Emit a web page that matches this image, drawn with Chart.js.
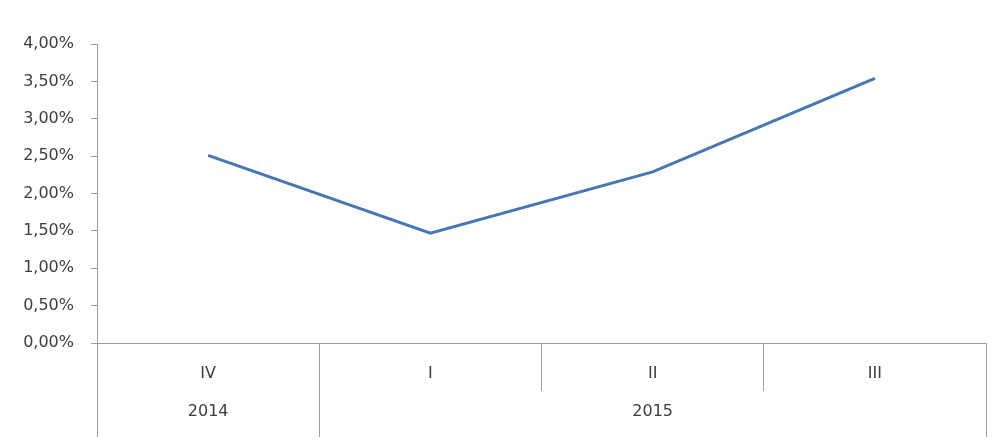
<!DOCTYPE html>
<html>
<head>
<meta charset="utf-8">
<script src="https://cdn.jsdelivr.net/npm/chart.js@4/dist/chart.umd.min.js"></script>
<style>
  html, body { margin: 0; padding: 0; background: #fff; }
  #wrap { width: 998px; height: 441px; }
</style>
</head>
<body>
<div id="wrap"><canvas id="grafico"></canvas></div>
<script>
// dados
const trimestres = ['IV', 'I', 'II', 'III'];
const anos = ['2014', '2015'];
const anoDeCada = [0, 1, 1, 1]; // índice em anos[] para cada trimestre
const taxa = [2.51, 1.47, 2.29, 3.54];

const corTexto = '#3d3d3d';
const corEixo = '#9c9c9c';
const fonte = { family: 'DejaVu Sans', size: 16 };

// desenha os anos e as divisórias longas entre grupos
const rotulosAnos = {
  id: 'rotulosAnos',
  afterDraw(chart) {
    const x = chart.scales.x;
    const ctx = chart.ctx;
    const meio = (x.getPixelForValue(1) - x.getPixelForValue(0)) / 2;
    const topo = x.top;
    const base = chart.height - 4;
    ctx.save();
    ctx.strokeStyle = corEixo;
    ctx.lineWidth = 1;
    ctx.fillStyle = corTexto;
    ctx.font = fonte.size + 'px ' + fonte.family;
    ctx.textAlign = 'center';
    ctx.textBaseline = 'middle';
    anos.forEach((ano, a) => {
      const idx = anoDeCada.map((v, i) => v === a ? i : -1).filter(i => i >= 0);
      const ini = x.getPixelForValue(idx[0]) - meio;
      const fim = x.getPixelForValue(idx[idx.length - 1]) + meio;
      [ini, fim].forEach(px => {
        const p = Math.round(px) + 0.5;
        ctx.beginPath();
        ctx.moveTo(p, topo);
        ctx.lineTo(p, base);
        ctx.stroke();
      });
      ctx.fillText(ano, (ini + fim) / 2, 412);
    });
    ctx.restore();
  }
};

new Chart(document.getElementById('grafico'), {
  type: 'line',
  data: {
    labels: trimestres,
    datasets: [{
      data: taxa,
      borderColor: '#4677b2',
      borderWidth: 3,
      pointRadius: 0,
      tension: 0,
      fill: false
    }]
  },
  options: {
    responsive: true,
    maintainAspectRatio: false,
    animation: false,
    layout: { padding: { top: 44, right: 12, left: 0, bottom: 0 } },
    plugins: {
      legend: { display: false },
      tooltip: { enabled: false }
    },
    scales: {
      x: {
        offset: true,
        grid: { offset: true, drawOnChartArea: false, tickLength: 48, color: corEixo },
        border: { display: true, color: corEixo },
        ticks: { color: corTexto, font: fonte, padding: -27, maxRotation: 0 },
        afterFit(s) { s.height = 98; }
      },
      y: {
        min: 0,
        max: 4,
        grid: { drawOnChartArea: false, tickLength: 6, color: corEixo },
        border: { display: true, color: corEixo },
        ticks: {
          stepSize: 0.5,
          color: corTexto,
          font: fonte,
          padding: 17,
          callback: v => v.toFixed(2).replace('.', ',') + '%'
        },
        afterFit(s) { s.width = 97; }
      }
    }
  },
  plugins: [rotulosAnos]
});
</script>
</body>
</html>
